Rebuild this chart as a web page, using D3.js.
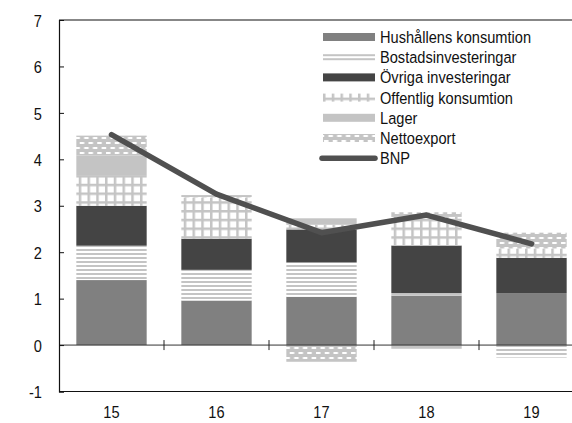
<!DOCTYPE html>
<html>
<head>
  <script src="https://d3js.org/d3.v7.min.js"></script>
  <style>
    body { margin: 0; background: #fff; }
    text { font-family: "Liberation Sans", Arial, sans-serif; fill: #111; }
  </style>
</head>
<body>
  <svg width="572" height="423"></svg>

  <script>
    // Data (percentage points)
    const years = ["15", "16", "17", "18", "19"];
    const hushall = [1.40, 0.96, 1.04, 1.07, 1.12];
    const bostad = [0.74, 0.66, 0.74, 0.05, -0.27];
    const ovriga = [0.86, 0.67, 0.71, 1.02, 0.76];
    const offentlig = [0.66, 0.89, 0.10, 0.62, 0.20];
    const lager = [0.42, 0, 0.14, -0.08, 0];
    const netto = [0.43, 0.05, -0.36, 0.10, 0.34];
    const bnp = [4.53, 3.25, 2.42, 2.80, 2.18];
    const yTicks = [-1, 0, 1, 2, 3, 4, 5, 6, 7];

    const seriesNames = ["Hushållens konsumtion", "Bostadsinvesteringar", "Övriga investeringar",
      "Offentlig konsumtion", "Lager", "Nettoexport"];
    const seriesVals = [hushall, bostad, ovriga, offentlig, lager, netto];

    const squeeze = 0.86; // condensed look of the original typeface

    const svg = d3.select("svg");

    // Fill patterns
    const defs = svg.append("defs");
    const stripes = defs.append("pattern").attr("id", "stripes")
      .attr("patternUnits", "userSpaceOnUse").attr("width", 8).attr("height", 4);
    stripes.append("rect").attr("width", 8).attr("height", 4).attr("fill", "#fff");
    stripes.append("rect").attr("y", 1).attr("width", 8).attr("height", 2).attr("fill", "#c4c4c4");

    const grid = defs.append("pattern").attr("id", "grid")
      .attr("patternUnits", "userSpaceOnUse").attr("width", 8.75).attr("height", 8.75);
    grid.append("rect").attr("width", 8.75).attr("height", 8.75).attr("fill", "#c4c4c4");
    grid.append("rect").attr("x", 2.5).attr("y", 2.5).attr("width", 6.25).attr("height", 6.25).attr("fill", "#fff");

    const dots = defs.append("pattern").attr("id", "dots")
      .attr("patternUnits", "userSpaceOnUse").attr("width", 8.75).attr("height", 10);
    dots.append("rect").attr("width", 8.75).attr("height", 10).attr("fill", "#c4c4c4");
    dots.append("rect").attr("x", 1).attr("y", 2).attr("width", 4.5).attr("height", 2).attr("fill", "#fff");
    dots.append("rect").attr("x", 5.4).attr("y", 7).attr("width", 4.5).attr("height", 2).attr("fill", "#fff");
    dots.append("rect").attr("x", -3.35).attr("y", 7).attr("width", 4.5).attr("height", 2).attr("fill", "#fff");

    const fills = ["#808080", "url(#stripes)", "#444444", "url(#grid)", "#c4c4c4", "url(#dots)"];

    // Scales
    const x = d3.scaleBand().domain(years).range([59, 584]).paddingInner(0.33).paddingOuter(0.165);
    const y = d3.scaleLinear().domain([-1, 7]).range([391.5, 20]);

    // Stack (positive up, negative down)
    const table = years.map((yr, i) => {
      const row = { year: yr };
      seriesNames.forEach((s, k) => row[s] = seriesVals[k][i]);
      return row;
    });
    const stack = d3.stack().keys(seriesNames).offset(d3.stackOffsetDiverging)(table);

    svg.append("g").selectAll("g")
      .data(stack)
      .join("g")
      .attr("fill", (d, k) => fills[k])
      .selectAll("rect")
      .data(d => d)
      .join("rect")
      .attr("x", d => x(d.data.year))
      .attr("width", x.bandwidth())
      .attr("y", d => y(Math.max(d[0], d[1])))
      .attr("height", d => Math.abs(y(d[0]) - y(d[1])));

    // Frame lines
    const x0 = 59, x1 = 584;
    svg.append("line").attr("x1", x0).attr("x2", x1).attr("y1", y(7)).attr("y2", y(7))
      .attr("stroke", "#111").attr("stroke-width", 1.2);
    svg.append("line").attr("x1", x0).attr("x2", x1).attr("y1", y(-1)).attr("y2", y(-1))
      .attr("stroke", "#111").attr("stroke-width", 1.2);
    svg.append("line").attr("x1", x0).attr("x2", x1).attr("y1", y(0)).attr("y2", y(0))
      .attr("stroke", "#333").attr("stroke-width", 1);

    // Zero line ticks between categories
    svg.append("g").selectAll("line")
      .data(years.slice(1))
      .join("line")
      .attr("x1", d => x(d) - x.step() * x.paddingInner() / 2)
      .attr("x2", d => x(d) - x.step() * x.paddingInner() / 2)
      .attr("y1", y(0) - 5).attr("y2", y(0) + 5)
      .attr("stroke", "#222").attr("stroke-width", 1);

    // Y axis
    const yAxis = svg.append("g")
      .attr("transform", `translate(${x0},0)`)
      .call(d3.axisRight(y).tickValues(yTicks).tickSize(5).tickFormat(d => String(d)));
    yAxis.select(".domain").attr("stroke", "#111").attr("stroke-width", 1.2);
    yAxis.selectAll(".tick line").attr("stroke", "#111");
    yAxis.selectAll(".tick text")
      .attr("x", 0).attr("dy", "0.36em")
      .attr("transform", `translate(-17,0) scale(${squeeze},1)`)
      .attr("text-anchor", "end")
      .style("font-family", "'Liberation Sans', Arial, sans-serif")
      .style("font-size", "17px").attr("fill", "#111");

    // X labels
    svg.append("g").selectAll("text")
      .data(years)
      .join("text")
      .attr("transform", d => `translate(${x(d) + x.bandwidth() / 2},418) scale(${squeeze},1)`)
      .attr("text-anchor", "middle")
      .style("font-size", "17px")
      .text(d => d);

    // BNP line
    const line = d3.line()
      .x((d, i) => x(years[i]) + x.bandwidth() / 2)
      .y(d => y(d));
    svg.append("path")
      .datum(bnp)
      .attr("fill", "none")
      .attr("stroke", "#505050")
      .attr("stroke-width", 5.5)
      .attr("stroke-linecap", "round")
      .attr("stroke-linejoin", "round")
      .attr("d", line);

    // Legend
    const legend = svg.append("g").attr("transform", "translate(323,37)");
    const rowH = 20.2;
    seriesNames.forEach((s, k) => {
      const g = legend.append("g").attr("transform", `translate(0,${k * rowH})`);
      g.append("rect").attr("x", 0).attr("y", -4).attr("width", 52).attr("height", 8).attr("fill", fills[k]);
      g.append("text").attr("transform", `translate(57,6) scale(${squeeze},1)`)
        .style("font-size", "17px").text(s);
    });
    const gb = legend.append("g").attr("transform", `translate(0,${6 * rowH})`);
    gb.append("line").attr("x1", -1).attr("x2", 52).attr("y1", 0).attr("y2", 0)
      .attr("stroke", "#505050").attr("stroke-width", 5.5).attr("stroke-linecap", "round");
    gb.append("text").attr("transform", `translate(57,6) scale(${squeeze},1)`)
      .style("font-size", "17px").text("BNP");
  </script>
</body>
</html>
